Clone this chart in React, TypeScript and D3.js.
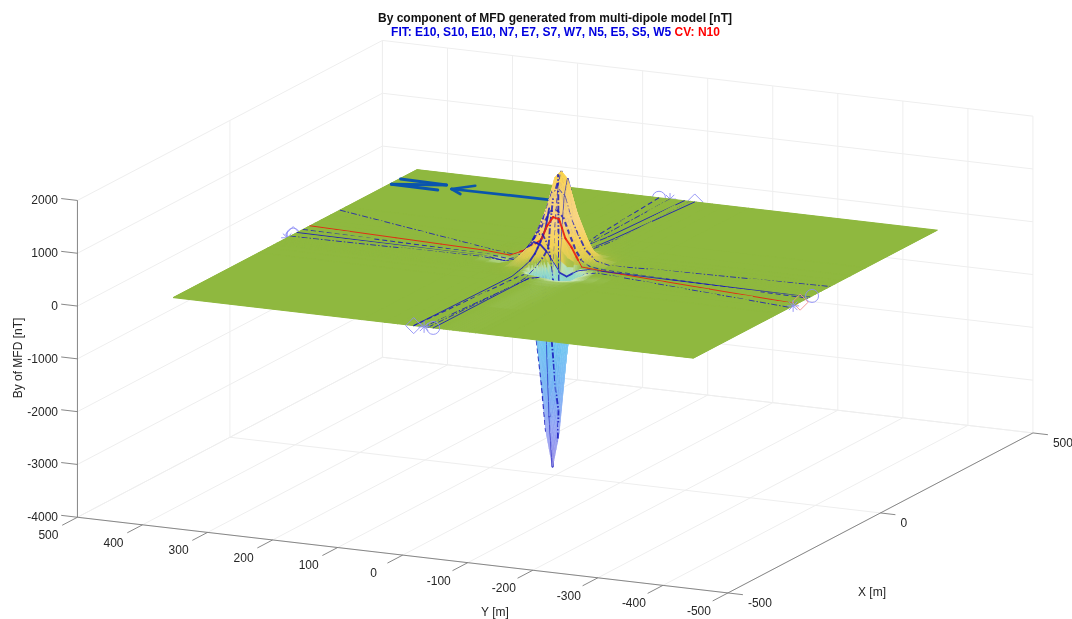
import React from "react";
import * as d3 from "d3";

const titleLine = "By component of MFD generated from multi-dipole model [nT]";
const fitLabel = "FIT: E10, S10, E10, N7, E7, S7, W7, N5, E5, S5, W5";
const cvLabel = " CV: N10";
const zTicks = [2000, 1000, 0, -1000, -2000, -3000, -4000];
const yTicks = [500, 400, 300, 200, 100, 0, -100, -200, -300, -400, -500];
const xTicks = [-500, 0, 500];

const xNodes = [-400, -120, -90, -70, -60, -50, -40, -30, -20, -10, 0, 10, 20, 30, 40, 50, 65, 85, 115, 165, 400];
const yNodes = [-400, -110, -75, -55, -40, -30, -20, -10, 0, 10, 20, 30, 40, 55, 75, 110, 400];
// By [nT] on the (xNodes, yNodes) grid
const byRows = [
  [0,0,0,0,0,0,0,0,0,0,0,0,0,0,0,0,0],
  [0,0,0,-5,-8,-8,-5,0,0,0,0,0,0,0,0,0,0],
  [0,0,0,-15,-20,-20,-15,-5,0,0,0,0,0,0,0,0,0],
  [0,0,-15,-50,-70,-70,-50,-40,-22,-12,-5,5,8,3,0,0,0],
  [0,0,-20,-70,-110,-150,-193,-233,-193,-109,-20,10,15,5,0,0,0],
  [0,0,-10,-50,-200,-513,-904,-1091,-904,-513,-80,30,40,10,0,0,0],
  [0,0,0,-60,-503,-1293,-2279,-2752,-2279,-1293,-200,60,80,20,0,0,0],
  [0,0,0,-82,-683,-1755,-3092,-3731,-3083,-1743,-300,80,120,30,-10,0,0],
  [0,0,0,-58,-490,-1260,-2217,-2661,-2176,-1190,-100,200,220,40,-40,0,0],
  [0,0,0,-17,-155,-403,-695,-784,-555,-190,150,330,260,30,-45,0,0],
  [0,0,3,25,85,170,305,497,637,637,547,440,280,40,-45,0,0],
  [0,0,10,70,260,530,830,1260,1380,1290,898,620,340,40,-30,0,0],
  [0,0,15,100,350,700,1060,1560,1700,1560,1060,700,350,90,10,0,0],
  [0,0,12,80,290,590,890,1300,1430,1300,870,540,260,70,10,0,0],
  [0,0,8,50,185,360,530,730,830,730,520,320,160,45,6,0,0],
  [0,0,5,28,90,165,245,320,349,320,240,150,80,25,4,0,0],
  [0,0,2,12,28,48,60,70,80,70,60,45,25,10,2,0,0],
  [0,0,0,3,8,12,15,18,20,18,15,12,8,3,0,0,0],
  [0,0,0,0,2,4,5,6,6,6,5,4,2,0,0,0,0],
  [0,0,0,0,0,0,0,0,0,0,0,0,0,0,0,0,0],
  [0,0,0,0,0,0,0,0,0,0,0,0,0,0,0,0,0],
];
const colorDomain = [-3800, -3000, -2200, -1400, -700, -150, -60, 0, 40, 150, 400, 800, 1200, 1700];
const colorRange = ["#8a7ce0", "#8a9af4", "#64a8f2", "#5abcf0", "#74d0ea", "#8ed8c8", "#c5e4b0", "#8fb83f", "#a8bc3e", "#e0ca48", "#f6cf50", "#f8d27a", "#f8d070", "#fbd23e"];

// Flight tracks: [x, y] follows the model surface, [x, y, By] is an explicit reading
const trackE10a = [[400,-11],[170,-2],[85,6],[50,10],[30,13],[20,14,1290],[10,14,1000],[0,15,640],[-10,18,420],[-20,22,220],[-30,25,110],[-50,27,40],[-90,24,5],[-400,30,0]];
const trackW7 = [[-400,8,0],[-140,0,3],[-90,3,8],[-50,6,90],[-20,8,200],[-5,8,312],[0,8,700],[10,8,1200],[20,5,1500],[30,3,1200],[50,-5,320],[85,-12],[170,-20],[400,-20]];
const trackE7 = [[400,-27],[170,-14],[85,-8],[50,-9],[30,-10],[20,-10],[10,-10],[0,-10],[-10,-10],[-20,-10],[-30,-10],[-40,-10],[-50,-10],[-60,-9],[-70,-7],[-90,-1],[-400,0]];
const trackE5 = [[400,28],[170,15],[85,5],[50,2],[20,0],[0,0],[-20,0],[-30,0],[-35,5],[-40,10],[-50,12],[-70,15],[-400,30]];
const trackS7 = [[400,11],[170,8],[85,4],[50,4],[20,5],[0,-5],[-20,-15],[-28,-14],[-30,-18],[-34,-21],[-40,-20],[-48,-17],[-60,-12],[-90,-2],[-400,14]];
const trackN10 = [[49,400,0],[10.6,115,66],[4.8,71.8,50],[1.4,47,190],[-2.2,20.8,430],[-3.5,11,712],[-5,1,900],[-6.2,-8.7,880],[-6.8,-13.6,720],[-7.6,-19,540],[-9,-29,390],[-11,-46,40],[-17,-90,25],[-60,-400,0]];
const trackS10 = [[147,400],[21,72],[5,40],[0,20],[-5,5],[-10,-5],[-15,-40],[-25,-90],[-83,-400]];
const trackN7 = [[-16,400],[-5,100],[5,50],[10,20],[10,0],[10,-20],[15,-50],[30,-130],[48,-400]];
const trackN5 = [[26,400],[10,100],[5,40],[5,20],[5,0],[5,-20],[0,-50],[-5,-100],[-25,-400]];
const trackS5 = [[7,400],[0,100],[-5,50],[-5,25],[-5,10],[-5,0],[-5,-20],[-5,-35],[-10,-70],[-18,-400]];
const arrowShaft = [[325,150,0],[321.5,310,0]];
const arrowHeadA = [[352,288,0],[321.5,310,0],[301,287,0]];
const letterN = [[342,398,0],[339,326,0],[310,397,0],[308,325,0]];

const DASH = "5 3";
const DOTDASH = "6 2 1.5 2";
const BLUE = "#1616bc";
const RED = "#e8200f";
const NAVY = "#0a55ad";
const tracks = [
  { pts: trackE10a, color: BLUE, w: 1, dash: "", op: 0.85 },
  { pts: trackW7, color: BLUE, w: 1, dash: DOTDASH, op: 0.8 },
  { pts: trackE7, color: BLUE, w: 1, dash: "", op: 0.85 },
  { pts: trackE5, color: BLUE, w: 1.1, dash: DASH, op: 0.85 },
  { pts: trackS7, color: BLUE, w: 1, dash: DOTDASH, op: 0.85 },
  { pts: trackN10, color: RED, w: 1, dash: "", op: 0.9 },
  { pts: trackS10, color: BLUE, w: 1, dash: DOTDASH, op: 0.8 },
  { pts: trackN7, color: BLUE, w: 1, dash: DOTDASH, op: 0.8 },
  { pts: trackN5, color: BLUE, w: 1.1, dash: DASH, op: 0.8 },
  { pts: trackS5, color: BLUE, w: 1, dash: "", op: 0.85 },
  { pts: arrowShaft, color: NAVY, w: 2.7, dash: "", op: 1, fixed: true },
  { pts: arrowHeadA, color: NAVY, w: 2.7, dash: "", op: 1, fixed: true },
  { pts: letterN, color: NAVY, w: 3, dash: "", op: 1, fixed: true },
];
const markerBlue = "#8c8cf5";
const markerRed = "#f09090";
const backMarkers = [
  { k: "o", x: -6, y: 400, c: markerBlue }, { k: "d", x: -6, y: 400, c: markerBlue }, { k: "*", x: -26, y: 400, c: markerBlue },
  { k: "o", x: 400, y: 28, c: markerBlue }, { k: "*", x: 400, y: 11, c: markerBlue }, { k: "d", x: 400, y: -27, c: markerBlue },
];
const frontMarkers = [
  { k: "o", x: -11, y: -400, c: markerBlue }, { k: "d", x: -50, y: -400, c: markerRed }, { k: "*", x: -73, y: -400, c: markerBlue },
  { k: "d", x: -400, y: 30, c: markerBlue }, { k: "*", x: -400, y: 14, c: markerBlue }, { k: "o", x: -400, y: 0, c: markerBlue },
];

const xPx = d3.scaleLinear([-500, 500], [-152.5, 152.5]);
const xPy = d3.scaleLinear([-500, 500], [80, -80]);
const yPx = d3.scaleLinear([-500, 500], [325.25, -325.25]);
const yPy = d3.scaleLinear([-500, 500], [37.85, -37.85]);
const zPy = d3.scaleLinear([-4000, 2000], [475.1, 158.3]);
const color = d3.scaleLinear<string>().domain(colorDomain).range(colorRange).clamp(true);

const project = (x: number, y: number, z: number): [number, number] => [555.2 + xPx(x) + yPx(y), zPy(z) + xPy(x) + yPy(y)];
const seg = (a: [number, number, number], b: [number, number, number]) => {
  const p = project(...a), q = project(...b);
  return { x1: p[0], y1: p[1], x2: q[0], y2: q[1] };
};
const clampI = (v: number, n: number) => Math.max(0, Math.min(n - 2, v));
const cellOf = (nodes: number[], v: number) => clampI(d3.bisectRight(nodes, v) - 1, nodes.length);

function surfaceAt(x: number, y: number) {
  const i = cellOf(xNodes, x), j = cellOf(yNodes, y);
  const u = (x - xNodes[i]) / (xNodes[i + 1] - xNodes[i]);
  const v = (y - yNodes[j]) / (yNodes[j + 1] - yNodes[j]);
  return (1 - u) * (1 - v) * byRows[i][j] + u * (1 - v) * byRows[i + 1][j] + (1 - u) * v * byRows[i][j + 1] + u * v * byRows[i + 1][j + 1];
}

type Piece = { a: number[]; b: number[]; offset: number; t: any; key: string; midZ: number };
const piecesByCell = new Map<string, Piece[]>();
tracks.forEach((t: any, ti) => {
  let cum = 0;
  for (let k = 0; k + 1 < t.pts.length; k++) {
    const A = t.pts[k], B = t.pts[k + 1];
    const cuts = [0, 1];
    const crossing = (nodes: number[], a: number, b: number) => {
      nodes.forEach((n) => { const s = (n - a) / (b - a); if (s > 0 && s < 1) cuts.push(s); });
    };
    if (A[0] !== B[0]) crossing(xNodes, A[0], B[0]);
    if (A[1] !== B[1]) crossing(yNodes, A[1], B[1]);
    cuts.sort(d3.ascending);
    const at = (s: number) => {
      const x = A[0] + (B[0] - A[0]) * s, y = A[1] + (B[1] - A[1]) * s;
      const za = A.length > 2 ? A[2] : surfaceAt(A[0], A[1]);
      const zb = B.length > 2 ? B[2] : surfaceAt(B[0], B[1]);
      const z = A.length > 2 || B.length > 2 ? za + (zb - za) * s : surfaceAt(x, y);
      return [x, y, z];
    };
    for (let c = 0; c + 1 < cuts.length; c++) {
      const a = at(cuts[c]), b = at(cuts[c + 1]);
      const mx = (a[0] + b[0]) / 2, my = (a[1] + b[1]) / 2;
      const key = cellOf(xNodes, mx) + "_" + cellOf(yNodes, my);
      const pa = project(a[0], a[1], a[2]), pb = project(b[0], b[1], b[2]);
      const piece: Piece = { a: pa, b: pb, offset: cum, t, key: ti + "-" + k + "-" + c, midZ: (a[2] + b[2]) / 2 };
      cum += Math.hypot(pb[0] - pa[0], pb[1] - pa[1]);
      if (!piecesByCell.has(key)) piecesByCell.set(key, []);
      piecesByCell.get(key)!.push(piece);
    }
  }
});

const poly = d3.line();
const Marker = ({ m }: { m: any }) => {
  const [px, py] = project(m.x, m.y, 0);
  const st = { fill: "none", stroke: m.c, strokeWidth: 0.9 };
  if (m.k === "o") return <circle cx={px} cy={py} r={6.5} {...st} />;
  if (m.k === "d") return <path d={poly([[px - 8, py], [px, py - 8], [px + 8, py], [px, py + 8]])! + "Z"} {...st} />;
  return <g {...st}>{[0, 45, 90, 135].map((a) => {
    const c = Math.cos((a * Math.PI) / 180) * 6, s = Math.sin((a * Math.PI) / 180) * 6;
    return <line key={a} x1={px - c} y1={py - s} x2={px + c} y2={py + s} />;
  })}</g>;
};

export default function App() {
  const grid = "#eeeeee";
  const axis = "#7a7a7a";
  const txt = "#262626";
  const wallLines: React.ReactNode[] = [];
  zTicks.forEach((z) => {
    wallLines.push(<line key={"wa" + z} {...seg([-500, 500, z], [500, 500, z])} />);
    wallLines.push(<line key={"wb" + z} {...seg([500, 500, z], [500, -500, z])} />);
  });
  xTicks.forEach((x) => {
    wallLines.push(<line key={"wc" + x} {...seg([x, 500, -4000], [x, 500, 2000])} />);
    wallLines.push(<line key={"fx" + x} {...seg([x, 500, -4000], [x, -500, -4000])} />);
  });
  yTicks.forEach((y) => {
    wallLines.push(<line key={"wd" + y} {...seg([500, y, -4000], [500, y, 2000])} />);
    wallLines.push(<line key={"fy" + y} {...seg([-500, y, -4000], [500, y, -4000])} />);
  });

  const xMin = xNodes[0], xMax = xNodes[xNodes.length - 1], yMin = yNodes[0], yMax = yNodes[yNodes.length - 1];
  const plate = poly([project(xMin, yMin, 0), project(xMax, yMin, 0), project(xMax, yMax, 0), project(xMin, yMax, 0)])! + "Z";

  const drawn: React.ReactNode[] = [];
  for (let i = xNodes.length - 2; i >= 0; i--) {
    for (let j = yNodes.length - 2; j >= 0; j--) {
      const zs = [byRows[i][j], byRows[i + 1][j], byRows[i + 1][j + 1], byRows[i][j + 1]];
      const spread = d3.max(zs.map(Math.abs))!;
      const n = spread === 0 ? 1 : spread < 60 ? 2 : spread < 500 ? 4 : 6;
      const x0 = xNodes[i], x1 = xNodes[i + 1], y0 = yNodes[j], y1 = yNodes[j + 1];
      for (let a = n - 1; a >= 0; a--) {
        for (let b = n - 1; b >= 0; b--) {
          const ua = x0 + ((x1 - x0) * a) / n, ub = x0 + ((x1 - x0) * (a + 1)) / n;
          const va = y0 + ((y1 - y0) * b) / n, vb = y0 + ((y1 - y0) * (b + 1)) / n;
          const h = (u: number, v: number) => {
            const s = (u - x0) / (x1 - x0), r = (v - y0) / (y1 - y0);
            return (1 - s) * (1 - r) * zs[0] + s * (1 - r) * zs[1] + s * r * zs[2] + (1 - s) * r * zs[3];
          };
          const hs = [h(ua, va), h(ub, va), h(ub, vb), h(ua, vb)];
          const d = poly([project(ua, va, hs[0]), project(ub, va, hs[1]), project(ub, vb, hs[2]), project(ua, vb, hs[3])])! + "Z";
          const meanZ = d3.mean(hs)!, meanY = (va + vb) / 2;
          let fill = color(meanZ);
          if (meanZ < -300 && meanY > 2) fill = d3.interpolateRgb(fill, "#1a78d0")(Math.min(0.65, (meanY - 2) / 20));
          const whiten = spread < 60 ? 0 : meanZ < -300 ? 0.28 : 0.12;
          const stroke = spread === 0 ? fill : d3.interpolateRgb(fill, "#ffffff")(whiten);
          drawn.push(<path key={"c" + i + "_" + j + "_" + a + "_" + b} d={d} fill={fill} stroke={stroke} strokeWidth={spread === 0 ? 1 : spread < 60 ? 0.8 : 0.45} />);
        }
      }
      (piecesByCell.get(i + "_" + j) || []).forEach((p) => {
        const w = p.t.fixed ? p.t.w : Math.abs(p.midZ) > 150 ? p.t.w * 1.9 : p.t.w;
        drawn.push(
          <line key={p.key} x1={p.a[0]} y1={p.a[1]} x2={p.b[0]} y2={p.b[1]} stroke={p.t.color} strokeWidth={w} strokeOpacity={p.t.op}
            strokeDasharray={p.t.dash || undefined} strokeDashoffset={p.t.dash ? p.offset : undefined} strokeLinecap={p.t.dash ? "butt" : "round"} />
        );
      });
    }
  }

  const font = "'Liberation Sans', Arial, sans-serif";
  return (
    <svg width={1072} height={619} style={{ position: "absolute", left: 0, top: 0, filter: "blur(0.35px)" }} fontFamily={font}>
      <rect width={1072} height={619} fill="#fff" />
      <g stroke={grid} strokeWidth={1}>{wallLines}</g>
      <g stroke={axis} strokeWidth={0.9}>
        <line {...seg([-500, 500, -4000], [-500, 500, 2000])} />
        <line {...seg([-500, 500, -4000], [-500, -500, -4000])} />
        <line {...seg([-500, -500, -4000], [500, -500, -4000])} />
        {zTicks.map((z) => <line key={z} {...seg([-500, 500, z], [-500, 525, z])} />)}
        {yTicks.map((y) => <line key={y} {...seg([-500, y, -4000], [-550, y, -4000])} />)}
        {xTicks.map((x) => <line key={x} {...seg([x, -500, -4000], [x, -523, -4000])} />)}
      </g>
      {backMarkers.map((m, i) => <Marker key={i} m={m} />)}
      <path d={plate} fill={color(0)} />
      {drawn}
      {frontMarkers.map((m, i) => <Marker key={i} m={m} />)}
      <text x={555} y={22} textAnchor="middle" fontSize={12} fontWeight="bold" fill="#111">{titleLine}</text>
      <text x={555.5} y={36} textAnchor="middle" fontSize={12} fontWeight="bold" xmlSpace="preserve">
        <tspan fill="#0000e0">{fitLabel}</tspan><tspan fill="#ff0000">{cvLabel}</tspan>
      </text>
      <g fontSize={12} fill={txt}>
        {zTicks.map((z) => {
          const [px, py] = project(-500, 500, z);
          return <text key={z} x={58} y={py} dy="0.33em" textAnchor="end">{z}</text>;
        })}
        {yTicks.map((y) => {
          const [px, py] = project(-500, y, -4000);
          return <text key={y} x={px - 29} y={py + 18} dy="0.33em" textAnchor="middle">{y}</text>;
        })}
        {xTicks.map((x) => {
          const [px, py] = project(x, -500, -4000);
          return <text key={x} x={px + 20} y={py + 10} dy="0.33em" textAnchor="start">{x}</text>;
        })}
        <text x={495} y={612} dy="0.33em" textAnchor="middle">Y [m]</text>
        <text x={872} y={592} dy="0.33em" textAnchor="middle">X [m]</text>
        <text transform="translate(18,358) rotate(-90)" dy="0.33em" textAnchor="middle">By of MFD [nT]</text>
      </g>
    </svg>
  );
}
